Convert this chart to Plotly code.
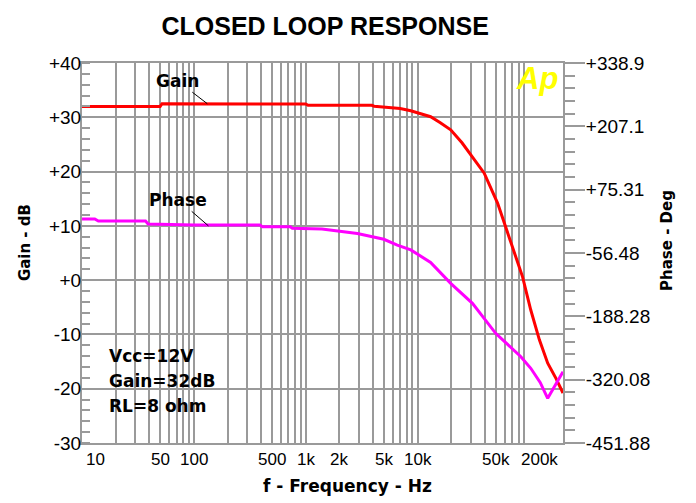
import math
import plotly.graph_objects as go

# ---- data ----
GAIN_FREQ = [10, 50, 52, 1000, 1050, 3900, 4100, 5400, 7000, 8700, 10700, 13100, 16000,
             19800, 25000, 30000, 39500, 52000, 66000, 87000, 103000, 123000, 146000,
             173000, 200000]
GAIN_DB = [32.0, 32.0, 32.5, 32.45, 32.2, 32.2, 32.05, 31.85, 31.6, 31.2, 30.7, 30.1, 29.0,
           27.7, 25.3, 23.1, 19.7, 14.2, 8.0, 0.6, -5.5, -11.0, -15.3, -18.1, -20.8]

PHASE_FREQ = [10, 13, 14, 37, 39, 100, 390, 410, 730, 760, 1400, 1900, 2900, 5000, 6600,
              8700, 10700, 13100, 19800, 31000, 50000, 84000, 103000, 125000, 146000, 200000]
PHASE_DEG = [14.3, 14.3, 10.1, 10.1, 3.9, 1.8, 1.8, -1.8, -1.8, -5.1, -6.5, -11.0, -16.0,
             -28.0, -40.0, -50.0, -64.0, -76.0, -119.6, -161.2, -223.6, -272.3, -296.4,
             -325.8, -358.9, -303.5]

GAIN_TICKS = [40, 30, 20, 10, 0, -10, -20, -30]
GAIN_TICK_TEXT = ["+40", "+30", "+20", "+10", "+0", "-10", "-20", "-30"]
PHASE_TICKS = [338.9, 207.1, 75.31, -56.48, -188.28, -320.08, -451.88]
PHASE_TICK_TEXT = ["+338.9", "+207.1", "+75.31", "-56.48", "-188.28", "-320.08", "-451.88"]
FREQ_LABELS = [10, 50, 100, 500, 1000, 2000, 5000, 10000, 50000, 200000]
FREQ_LABEL_TEXT = ["10", "50", "100", "500", "1k", "2k", "5k", "10k", "50k", "200k"]
FREQ_LABEL_SHIFT = [13, 0, 0, 0, 0, 0, 0, 0, 0, -24]
FREQ_GRID = [d * 10 ** e for e in range(1, 5) for d in range(1, 10)] + [200000]

NOTES = ["Vcc=12V", "Gain=32dB", "RL=8 ohm"]

GRID = "#9a9a9a"
BOLD = "DejaVu Sans"
ARIAL = "Liberation Sans"

fig = go.Figure()
fig.add_trace(go.Scatter(x=GAIN_FREQ, y=GAIN_DB, mode="lines",
                         line=dict(color="#ff0000", width=3), yaxis="y", showlegend=False))
fig.add_trace(go.Scatter(x=PHASE_FREQ, y=PHASE_DEG, mode="lines",
                         line=dict(color="#ff00ff", width=3), yaxis="y2", showlegend=False))

ann = []
for v, t, s in zip(FREQ_LABELS, FREQ_LABEL_TEXT, FREQ_LABEL_SHIFT):
    ann.append(dict(x=math.log10(v), y=0, xref="x", yref="paper", text=t, showarrow=False,
                    xanchor="center", yanchor="top", yshift=-5, xshift=s,
                    font=dict(family=ARIAL, size=17, color="black")))

# leader labels
ann.append(dict(x=math.log10(132), y=32.5, xref="x", yref="y", text="<b>Gain</b>",
                showarrow=True, arrowhead=0, arrowwidth=1, arrowcolor="black",
                ax=-30, ay=-23, font=dict(family=BOLD, size=17, color="black")))
ann.append(dict(x=math.log10(135), y=0, xref="x", yref="y2", text="<b>Phase</b>",
                showarrow=True, arrowhead=0, arrowwidth=1, arrowcolor="black",
                ax=-30, ay=-26, font=dict(family=BOLD, size=17, color="black")))

# notes block
for i, t in enumerate(NOTES):
    ann.append(dict(x=0.052, y=0.229 - i * 0.0655, xref="paper", yref="paper",
                    text="<b>" + t + "</b>", showarrow=False, xanchor="left",
                    yanchor="middle", font=dict(family=BOLD, size=17, color="black")))

# axis titles
ann.append(dict(x=-0.1185, y=0.526, xref="paper", yref="paper", text="<b>Gain - dB</b>",
                textangle=-90, showarrow=False, xanchor="center", yanchor="middle",
                font=dict(family=BOLD, size=15, color="black")))
ann.append(dict(x=1.216, y=0.534, xref="paper", yref="paper", text="<b>Phase - Deg</b>",
                textangle=-90, showarrow=False, xanchor="center", yanchor="middle",
                font=dict(family=BOLD, size=15, color="black")))
ann.append(dict(x=0.553, y=-0.113, xref="paper", yref="paper",
                text="<b>f - Frequency - Hz</b>", showarrow=False, xanchor="center",
                yanchor="middle", font=dict(family=BOLD, size=17, color="black")))

# Ap logo
ann.append(dict(x=0.946, y=0.9605, xref="paper", yref="paper", text="<b><i>Ap</i></b>",
                showarrow=False, xanchor="center", yanchor="middle",
                font=dict(family=ARIAL, size=31, color="#ffff00")))

# the page body has an 8px margin, so the figure is sized to fill the rest of the window
fig.update_layout(
    width=688, height=495,
    margin=dict(l=74, r=133, t=55, b=60),
    paper_bgcolor="white", plot_bgcolor="white",
    title=dict(text="<b>CLOSED LOOP RESPONSE</b>", x=0.461, xanchor="center",
               y=0.9636, yanchor="middle", font=dict(family=ARIAL, size=25, color="black")),
    xaxis=dict(type="log", range=[1, math.log10(200000)], tickmode="array",
               tickvals=FREQ_GRID, showticklabels=False, ticks="",
               showgrid=True, gridcolor=GRID, gridwidth=2,
               showline=True, mirror=True, linecolor=GRID, linewidth=2, zeroline=False),
    yaxis=dict(range=[-30, 40], tickmode="array", tickvals=GAIN_TICKS,
               ticktext=GAIN_TICK_TEXT, ticks="", showgrid=True, gridcolor=GRID,
               gridwidth=2, zeroline=False, showline=True, mirror=True,
               linecolor=GRID, linewidth=2, ticklabelstandoff=-5,
               tickfont=dict(family=ARIAL, size=19, color="black"),
               minor=dict(tickmode="linear", tick0=-30, dtick=2, ticks="inside",
                          ticklen=8, tickcolor=GRID, tickwidth=2, showgrid=False)),
    yaxis2=dict(overlaying="y", side="right", range=[-451.88, 338.9], tickmode="array",
                tickvals=PHASE_TICKS, ticktext=PHASE_TICK_TEXT, ticks="outside",
                ticklen=20, tickcolor=GRID, tickwidth=2, showgrid=False, zeroline=False,
                showline=True, linecolor=GRID, linewidth=2, ticklabelstandoff=-3,
                tickfont=dict(family=ARIAL, size=19, color="black"),
                minor=dict(tickmode="linear", tick0=-451.88, dtick=26.36, ticks="outside",
                           ticklen=10, tickcolor=GRID, tickwidth=2, showgrid=False)),
    annotations=ann,
)

fig.write_html("out.html")
